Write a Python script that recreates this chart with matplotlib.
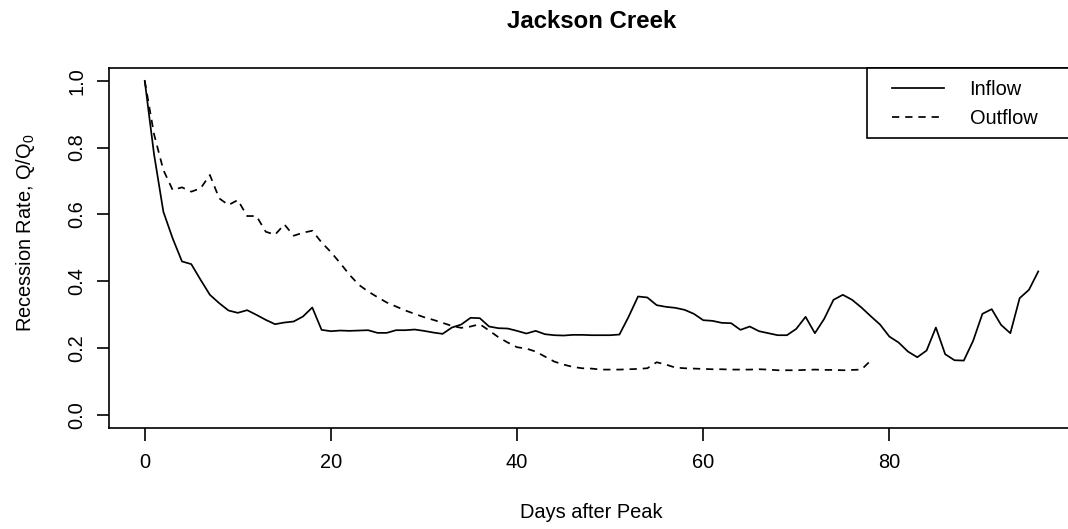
import numpy as np
import matplotlib
matplotlib.use("Agg")
import matplotlib.pyplot as plt
from matplotlib.patches import Rectangle

plt.rcParams['font.family'] = ['Liberation Sans', 'DejaVu Sans']
plt.rcParams['mathtext.default'] = 'regular'

# Recession rate Q/Q0 for each day after the peak
inflow = [1.0, 0.78, 0.608, 0.528, 0.459, 0.451, 0.404, 0.359, 0.334, 0.312,
          0.305, 0.313, 0.299, 0.284, 0.271, 0.276, 0.279, 0.294, 0.321, 0.254,
          0.250, 0.252, 0.251, 0.252, 0.253, 0.245, 0.245, 0.253, 0.253, 0.255,
          0.251, 0.246, 0.242, 0.261, 0.270, 0.290, 0.289, 0.264, 0.259, 0.258,
          0.251, 0.243, 0.251, 0.241, 0.238, 0.237, 0.239, 0.239, 0.238, 0.238,
          0.238, 0.240, 0.294, 0.354, 0.351, 0.328, 0.323, 0.320, 0.314, 0.302,
          0.283, 0.281, 0.275, 0.274, 0.254, 0.264, 0.250, 0.244, 0.238, 0.238,
          0.257, 0.293, 0.244, 0.287, 0.344, 0.359, 0.344, 0.321, 0.295, 0.270,
          0.234, 0.216, 0.189, 0.172, 0.192, 0.261, 0.181, 0.163, 0.162, 0.221,
          0.302, 0.316, 0.269, 0.244, 0.349, 0.374, 0.429]
outflow = [1.0, 0.84, 0.733, 0.673, 0.681, 0.668, 0.678, 0.718, 0.648, 0.628,
           0.643, 0.595, 0.595, 0.548, 0.539, 0.570, 0.536, 0.545, 0.551, 0.516,
           0.487, 0.454, 0.419, 0.389, 0.369, 0.352, 0.336, 0.324, 0.312, 0.302,
           0.292, 0.284, 0.275, 0.266, 0.260, 0.264, 0.271, 0.252, 0.232, 0.216,
           0.202, 0.198, 0.189, 0.174, 0.159, 0.150, 0.143, 0.139, 0.138, 0.135,
           0.135, 0.135, 0.136, 0.137, 0.139, 0.157, 0.150, 0.141, 0.139, 0.138,
           0.137, 0.136, 0.136, 0.135, 0.135, 0.135, 0.136, 0.135, 0.133, 0.133,
           0.133, 0.134, 0.135, 0.134, 0.134, 0.133, 0.134, 0.135, 0.162]
days_in = np.arange(len(inflow))
days_out = np.arange(len(outflow))

fig = plt.figure(figsize=(10.68, 5.29), dpi=100)
ax = fig.add_axes([0.10206, 0.19093, 0.90356, 0.68147])

lw = 1.25
ax.plot(days_in, inflow, color='black', lw=lw, label='Inflow')
ax.plot(days_out, outflow, color='black', lw=lw, dashes=(4.2, 3.4), label='Outflow')

ax.set_xlim(-3.84, 99.84)
ax.set_ylim(-0.04, 1.04)
ax.set_xticks([0, 20, 40, 60, 80])
ax.set_yticks(np.arange(0, 1.01, 0.2))
ax.set_yticklabels([f"{v:.1f}" for v in np.arange(0, 1.01, 0.2)],
                   rotation=90, va='center')
ax.tick_params(axis='both', labelsize=14.4, length=9, width=1.2)
ax.tick_params(axis='x', pad=9.3)
ax.tick_params(axis='y', pad=7.5)
for sp in ax.spines.values():
    sp.set_linewidth(1.2)

ax.set_ylabel('Recession Rate, Q/Q$_0$', fontsize=14.4)
ax.yaxis.set_label_coords(-0.075, 0.542)
fig.text(0.554, 0.032, 'Days after Peak', fontsize=14.4, ha='center', va='center')
fig.text(0.554, 0.948, 'Jackson Creek', fontsize=17.3, fontweight='bold',
         ha='center', va='baseline')

# legend box anchored to the top-right corner of the plot region
ax.add_patch(Rectangle((0.7855, 0.805), 0.2145, 0.195, transform=ax.transAxes,
                       facecolor='white', edgecolor='black', lw=1.2,
                       clip_on=False, zorder=5))
leg = ax.legend(loc='upper left', bbox_to_anchor=(0.811, 0.965), frameon=False,
                fontsize=14.4, handlelength=2.6, handletextpad=1.3,
                borderpad=0, borderaxespad=0, labelspacing=0.5)
leg.set_zorder(6)

fig.savefig('out.png', dpi=100)
